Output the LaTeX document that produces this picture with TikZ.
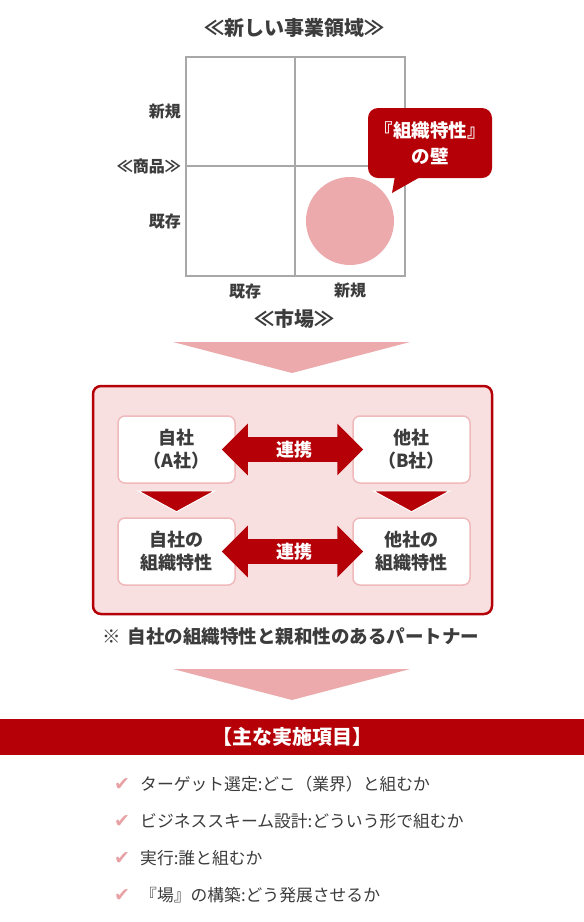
\documentclass[tikz,border=0pt]{standalone}
\usepackage{fontspec}
\setmainfont{Noto Sans CJK JP}
\newfontfamily\symfont{DejaVu Sans}
\usetikzlibrary{arrows.meta,calc}
\definecolor{txt}{HTML}{3C3C3C}
\definecolor{mred}{HTML}{B50008}
\definecolor{pinkA}{HTML}{ECAAAC}
\definecolor{boxfill}{HTML}{F8DFE0}
\definecolor{boxline}{HTML}{F0B9BB}
\definecolor{gridc}{HTML}{A8A8A8}
\definecolor{checkc}{HTML}{E8A2A6}
\tikzset{
  lbl/.style={text=txt, font=\bfseries\fontsize{16}{18}\selectfont, inner sep=0},
  head/.style={text=txt, font=\bfseries\fontsize{20}{22}\selectfont, inner sep=0},
  callout/.style={fill=mred, text=white, rounded corners=10, minimum width=124, minimum height=70, align=center, inner sep=0, font=\bfseries\fontsize{18.5}{26}\selectfont},
  ibox/.style={fill=white, draw=boxline, line width=1.5, rounded corners=7, minimum width=117, minimum height=67, align=center, inner sep=0, text=txt, font=\bfseries\fontsize{18}{23}\selectfont},
  linkarrow/.style={mred, line width=25, {Triangle[length=26pt,width=50pt]}-{Triangle[length=26pt,width=50pt]}},
  linktxt/.style={text=white, font=\bfseries\fontsize{18}{20}\selectfont, inner sep=0},
  itemtxt/.style={anchor=west, text=txt, font=\fontsize{16.8}{19}\selectfont, inner sep=0},
  chk/.style={text=checkc, font=\symfont\fontsize{19}{21}\selectfont, inner sep=0},
}
\begin{document}
\begin{tikzpicture}[x=1pt,y=-1pt]
\useasboundingbox[fill=white] (0,0) rectangle (584,922);
% title
\node[head] (title) at (294,28) {≪新しい事業領域≫};
% grid
\coordinate (g1) at (186,57);
\coordinate (g2) at (405,276);
\fill[pinkA] (350,221) circle (44);
\draw[gridc, line width=2] (g1) rectangle (g2);
\draw[gridc, line width=2] (295,57) -- (295,276);
\draw[gridc, line width=2] (186,166) -- (405,166);
\node[lbl, anchor=east] (pnew) at (181,112) {新規};
\node[lbl, anchor=east] (prod) at (181,166) {≪商品≫};
\node[lbl, anchor=east] (pold) at (181,221) {既存};
\node[lbl] (mold) at (245,291) {既存};
\node[lbl] (mnew) at (350,291) {新規};
\node[head] (market) at (294,319) {≪市場≫};
% callout
\node[callout] (wall) at (430,143) {『組織特性』\\の壁};
\fill[mred] (395,176) -- (392,193) -- (422,176) -- cycle;
% pink arrow 1
\fill[pinkA] (173,342) -- (410,342) -- (292,373) -- cycle;
% panel
\node[draw=mred, fill=boxfill, line width=2.5, rounded corners=8, minimum width=399, minimum height=228, inner sep=0] (panel) at (292.5,500) {};
\node[ibox] (a) at (176.5,449.5) {自社\\（A社）};
\node[ibox] (b) at (411.5,449.5) {他社\\（B社）};
\node[ibox] (c) at (176.5,551.5) {自社の\\組織特性};
\node[ibox] (d) at (411.5,551.5) {他社の\\組織特性};
\draw[linkarrow] ([xshift=-14pt]a.east) -- ([xshift=11pt]b.west);
\node[linktxt] (l1) at ($(a.east)!0.5!(b.west)$) {連携};
\draw[linkarrow] ([xshift=-14pt]c.east) -- ([xshift=11pt]d.west);
\node[linktxt] (l2) at ($(c.east)!0.5!(d.west)$) {連携};
\filldraw[mred, draw=white, line width=1] ($(a.south)+(-38.5,7)$) -- ($(a.south)+(38.5,7)$) -- ($(a.south)+(0,28)$) -- cycle;
\filldraw[mred, draw=white, line width=1] ($(b.south)+(-38.5,7)$) -- ($(b.south)+(38.5,7)$) -- ($(b.south)+(0,28)$) -- cycle;
% note
\node[text=txt, font=\bfseries\fontsize{18.5}{20}\selectfont, inner sep=0] (note) at (291,637) {※\hspace{7pt}自社の組織特性と親和性のあるパートナー};
% pink arrow 2
\fill[pinkA] (173,669) -- (410,669) -- (292,700) -- cycle;
% band
\node[fill=mred, minimum width=584, minimum height=36, inner sep=0, text=white, font=\bfseries\fontsize{20}{22}\selectfont] (band) at (292,737) {【主な実施項目】};
% list
\node[chk] (c1) at (122,784) {✔};
\node[itemtxt] (t1) at (140,784) {ターゲット選定:どこ（業界）と組むか};
\node[chk] (c2) at (122,821) {✔};
\node[itemtxt] (t2) at (140,821) {ビジネススキーム設計:どういう形で組むか};
\node[chk] (c3) at (122,858) {✔};
\node[itemtxt] (t3) at (140,858) {実行:誰と組むか};
\node[chk] (c4) at (122,895) {✔};
\node[itemtxt] (t4) at (140,895) {『場』の構築:どう発展させるか};
\end{tikzpicture}
\end{document}
